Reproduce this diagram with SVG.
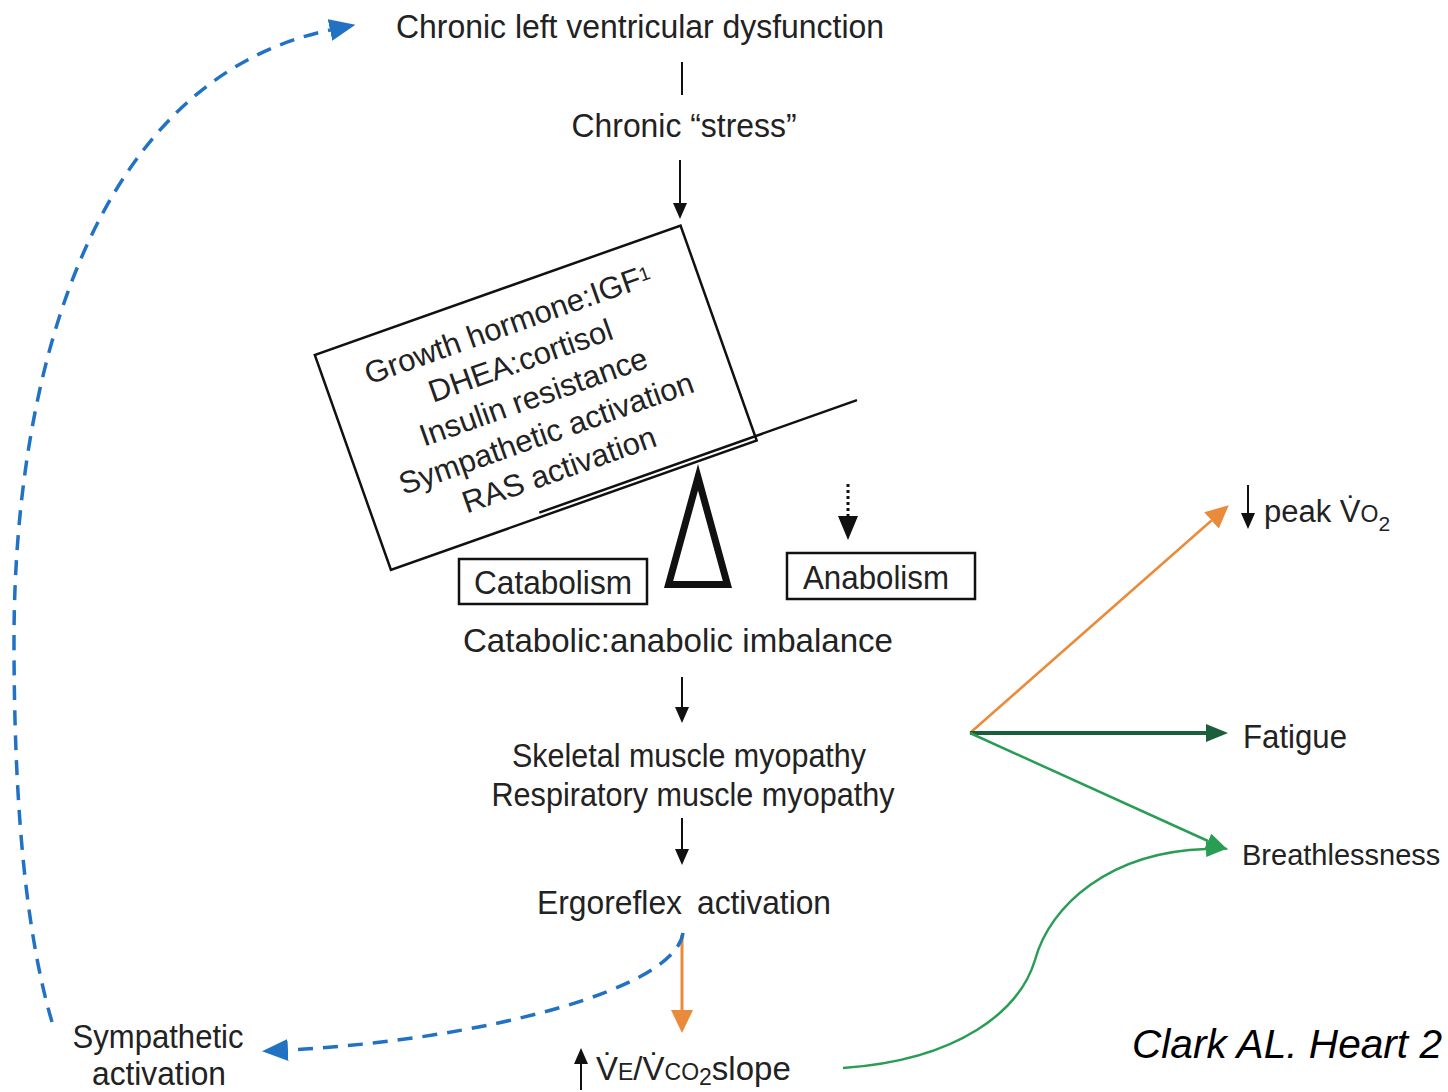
<svg xmlns="http://www.w3.org/2000/svg" width="1448" height="1092" viewBox="0 0 1448 1092">
<defs>
<style>
.t{font-family:"Liberation Sans",Arial,sans-serif;font-size:33px;fill:#222}
.box{fill:none;stroke:#111;stroke-width:2.5}
.blk{stroke:#111;stroke-width:2;fill:none}
.blue{stroke:#2272c3;stroke-width:3.5;fill:none;stroke-dasharray:15 10}
</style>
<marker id="aBlk" markerUnits="userSpaceOnUse" markerWidth="16" markerHeight="14" refX="0" refY="7" orient="auto"><path d="M0,0 L16,7 L0,14 z" fill="#111"/></marker>
<marker id="aDot" markerUnits="userSpaceOnUse" markerWidth="24" markerHeight="20" refX="0" refY="10" orient="auto"><path d="M0,0 L24,10 L0,20 z" fill="#111"/></marker>
<marker id="aBlue" markerUnits="userSpaceOnUse" markerWidth="26" markerHeight="22" refX="0" refY="11" orient="auto"><path d="M0,0 L26,11 L0,22 z" fill="#2272c3"/></marker>
<marker id="aOr" markerUnits="userSpaceOnUse" markerWidth="23" markerHeight="22" refX="0" refY="11" orient="auto"><path d="M0,0 L23,11 L0,22 z" fill="#e98b3a"/></marker>
<marker id="aGr" markerUnits="userSpaceOnUse" markerWidth="22" markerHeight="16" refX="0" refY="8" orient="auto"><path d="M0,0 L22,8 L0,16 z" fill="#2a9d55"/></marker>
<marker id="aDg" markerUnits="userSpaceOnUse" markerWidth="22" markerHeight="18" refX="0" refY="9" orient="auto"><path d="M0,0 L22,9 L0,18 z" fill="#1b5e3b"/></marker>
</defs>
<rect width="1448" height="1092" fill="#fff"/>

<g id="connectors">
<line x1="682" y1="62" x2="682" y2="95" class="blk"/>
<line x1="680" y1="160" x2="680" y2="203" class="blk" marker-end="url(#aBlk)"/>
<line x1="848" y1="484" x2="848" y2="516" stroke="#111" stroke-width="3" stroke-dasharray="3 3" marker-end="url(#aDot)"/>
<line x1="682" y1="677" x2="682" y2="707" class="blk" marker-end="url(#aBlk)"/>
<line x1="682" y1="818" x2="682" y2="849" class="blk" marker-end="url(#aBlk)"/>
<line x1="682" y1="935" x2="682" y2="1010" stroke="#e98b3a" stroke-width="3" marker-end="url(#aOr)"/>
<path d="M52,1022 C25,930 14,800 14,640 C14,380 90,80 330,30" class="blue" marker-end="url(#aBlue)"/>
<path d="M683,933 C675,990 480,1040 288,1050" class="blue" marker-end="url(#aBlue)"/>
<line x1="970" y1="733" x2="1211.5" y2="520.5" stroke="#e98b3a" stroke-width="2.5" marker-end="url(#aOr)"/>
<line x1="970" y1="733" x2="1206" y2="733" stroke="#1b5e3b" stroke-width="4" marker-end="url(#aDg)"/>
<line x1="970" y1="733" x2="1208" y2="841" stroke="#2a9d55" stroke-width="2.5" marker-end="url(#aGr)"/>
<path d="M843,1068 C960,1060 1020,1010 1035,960 C1050,905 1110,852 1206,849" fill="none" stroke="#2a9d55" stroke-width="2.5" marker-end="url(#aGr)"/>
</g>

<g id="n-clvd"><text class="t" x="640" y="38" text-anchor="middle" textLength="488" lengthAdjust="spacingAndGlyphs">Chronic left ventricular dysfunction</text></g>
<g id="n-stress"><text class="t" x="684" y="137" text-anchor="middle" textLength="225" lengthAdjust="spacingAndGlyphs">Chronic “stress”</text></g>

<g id="n-scale">
<g transform="translate(535.75,397.75) rotate(-19.5)">
<rect x="-194" y="-114" width="388" height="228" class="box"/>
<line x1="-35" y1="109.5" x2="302" y2="109.5" stroke="#111" stroke-width="2.5"/>
<g class="t" style="font-size:31px" text-anchor="middle">
<text x="-2" y="-68">Growth hormone:IGF<tspan font-size="19" dy="-6">1</tspan></text>
<text x="-2" y="-29.5">DHEA:cortisol</text>
<text x="-2" y="9">Insulin resistance</text>
<text x="-2" y="47.5">Sympathetic activation</text>
<text x="-2" y="86">RAS activation</text>
</g>
</g>
<path d="M698,464 L664,588 L732,588 Z M698,490.5 L673.2,581 L722.8,581 Z" fill="#111" fill-rule="evenodd"/>
</g>

<g id="n-catabolism">
<rect x="459" y="559" width="188" height="45" class="box"/>
<text class="t" x="553" y="594" text-anchor="middle" textLength="158" lengthAdjust="spacingAndGlyphs">Catabolism</text>
</g>
<g id="n-anabolism">
<rect x="787" y="553" width="188" height="46" class="box"/>
<text class="t" x="876" y="589" text-anchor="middle" textLength="146" lengthAdjust="spacingAndGlyphs">Anabolism</text>
</g>

<g id="n-imbalance"><text class="t" x="678" y="652" text-anchor="middle" textLength="430" lengthAdjust="spacingAndGlyphs">Catabolic:anabolic imbalance</text></g>
<g id="n-myopathy">
<text class="t" x="689" y="767" text-anchor="middle" textLength="354" lengthAdjust="spacingAndGlyphs">Skeletal muscle myopathy</text>
<text class="t" x="693" y="806" text-anchor="middle" textLength="403" lengthAdjust="spacingAndGlyphs">Respiratory muscle myopathy</text>
</g>
<g id="n-ergoreflex">
<text class="t" x="537" y="914" textLength="145" lengthAdjust="spacingAndGlyphs">Ergoreflex</text>
<text class="t" x="697" y="914" textLength="134" lengthAdjust="spacingAndGlyphs">activation</text>
</g>

<g id="n-symp">
<text class="t" x="158" y="1048" text-anchor="middle" textLength="171" lengthAdjust="spacingAndGlyphs">Sympathetic</text>
<text class="t" x="159" y="1085" text-anchor="middle" textLength="134" lengthAdjust="spacingAndGlyphs">activation</text>
</g>

<g id="n-slope">
<line x1="581" y1="1090" x2="581" y2="1064" class="blk" marker-end="url(#aBlk)"/>
<text class="t" x="596" y="1080" style="font-size:33px">V̇<tspan font-size="23">E</tspan>/V̇<tspan font-size="23">CO</tspan><tspan font-size="23" dy="5">2</tspan><tspan dy="-5">slope</tspan></text>
</g>

<g id="n-peak">
<line x1="1248" y1="485" x2="1248" y2="513" class="blk" marker-end="url(#aBlk)"/>
<text class="t" x="1264" y="522" style="font-size:31px">peak V̇<tspan font-size="23">O</tspan><tspan font-size="21" dy="9">2</tspan></text>
</g>

<g id="n-fatigue"><text class="t" x="1243" y="748" textLength="104" lengthAdjust="spacingAndGlyphs">Fatigue</text></g>
<g id="n-breath"><text class="t" x="1242" y="865" style="font-size:29px">Breathlessness</text></g>

<text x="1132" y="1058" font-family="Liberation Sans, Arial, sans-serif" font-style="italic" font-size="41" fill="#000" textLength="310" lengthAdjust="spacingAndGlyphs">Clark AL. Heart 2</text>
</svg>
